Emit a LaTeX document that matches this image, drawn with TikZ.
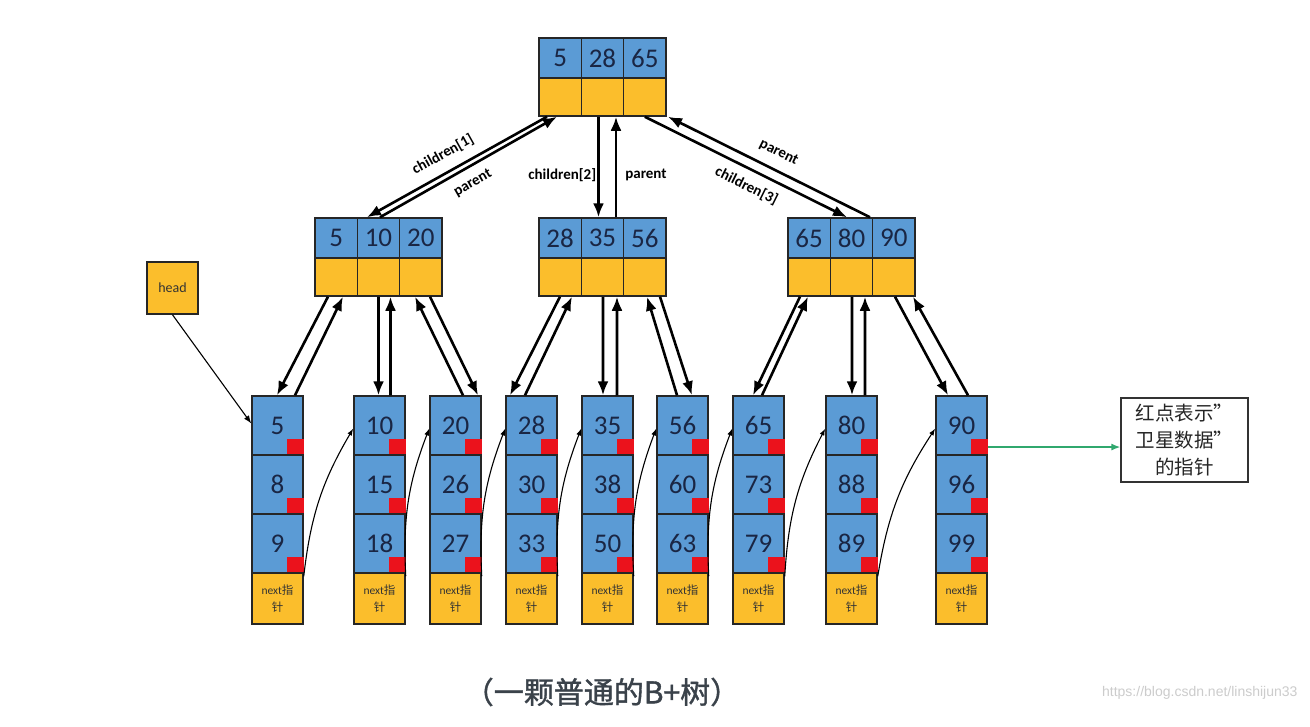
\documentclass[tikz,border=0pt]{standalone}
\usepackage{fontspec}
\setmainfont{Carlito}
\newfontfamily\cjk{Noto Sans CJK SC}
\newfontfamily\capfont[FakeBold=1.2]{Noto Sans CJK SC}
\newfontfamily\urlfont{Liberation Sans}
\usetikzlibrary{arrows.meta}

\definecolor{keyblue}{RGB}{91,155,213}
\definecolor{ptryellow}{RGB}{251,190,44}
\definecolor{dotred}{RGB}{235,18,28}
\definecolor{numblue}{RGB}{26,38,68}
\definecolor{linkgreen}{RGB}{48,168,110}
\definecolor{capgray}{RGB}{58,66,74}

\tikzset{
    keycell/.style={rectangle,draw=black!85,line width=1.5pt,fill=keyblue,text=numblue,font=\fontsize{27}{27}\selectfont,inner sep=0pt},
    ptrcell/.style={rectangle,draw=black!85,line width=1.5pt,fill=ptryellow,inner sep=0pt},
    reddot/.style={rectangle,fill=dotred,minimum size=17pt,inner sep=0pt,anchor=south east},
    link/.style={line width=2.6pt,-{Latex[length=14pt,width=11pt]}},
    nextlink/.style={line width=1.1pt,-{Latex[length=7pt,width=5pt]}},
    tag/.style={font=\bfseries\fontsize{15}{15}\selectfont,inner sep=1pt}
}

\begin{document}
\begin{tikzpicture}[x=1pt,y=-1pt]
    \path[fill=white,use as bounding box] (0,0) rectangle (1310,726);
    \foreach \n/\x/\y/\a/\b/\c in {root/539/38/5/28/65,lft/315/218/5/10/20,mid/539/218/28/35/56,rgt/788/218/65/80/90} {
        \foreach \k/\v in {1/\a,2/\b,3/\c} {
            \node at (\x+42.33*\k-21.17,\y+20) [keycell,minimum width=42.33pt,minimum height=40pt] (\n-k\k) {\v};
            \node at (\x+42.33*\k-21.17,\y+59) [ptrcell,minimum width=42.33pt,minimum height=38pt] (\n-p\k) {};
        }
    }
    \foreach \i/\x/\a/\b/\c in {1/277.5/5/8/9,2/379.5/10/15/18,3/455.5/20/26/27,4/531.5/28/30/33,5/607.5/35/38/50,6/682.5/56/60/63,7/758.5/65/73/79,8/851.5/80/88/89,9/961.5/90/96/99} {
        \foreach \k/\v/\y in {1/\a/425.5,2/\b/484.5,3/\c/543.5} {
            \node at (\x,\y) [keycell,minimum width=51pt,minimum height=59pt] (l\i-\k) {\v};
            \node at (l\i-\k.south east) [reddot] (l\i-d\k) {};
        }
        \node at (\x,598.5) [ptrcell,minimum width=51pt,minimum height=51pt,align=center,text=black!80,font=\fontsize{11.5}{17}\selectfont] (l\i-n) {next{\cjk 指}\\{\cjk 针}};
    }
    \node at (172.5,288) [ptrcell,minimum width=51pt,minimum height=52pt,text=black!80,font=\fontsize{14}{14}\selectfont] (head) {head};
    \draw[line width=1.1pt,-{Latex[length=8pt,width=6pt]}] (head.south) -- ([yshift=2]l1-1.west);

    \draw[link] ([xshift=-13.2]root-p1.south) -- ([xshift=-11.5]lft-k2.north)
        node[tag,sloped,above=9pt,pos=0.53] (c1) {children[1]};
    \draw[link] ([xshift=1.5]lft-k2.north) -- ([xshift=-3.2]root-p1.south)
        node[tag,sloped,below=8pt,pos=0.48] (p1) {parent};
    \draw[link] ([xshift=-4]root-p2.south) -- ([xshift=-4]mid-k2.north)
        node[tag,left,pos=0.58] (c2) {children[2]};
    \draw[link] ([xshift=13.5]mid-k2.north) -- ([xshift=13.5]root-p2.south)
        node[tag,right=7pt,pos=0.42] (p2) {parent};
    \draw[link] ([xshift=0]root-p3.south) -- ([xshift=-4.5]rgt-k2.north)
        node[tag,sloped,below=8pt,pos=0.54] (c3) {children[3]};
    \draw[link] ([xshift=18.5]rgt-k2.north) -- ([xshift=23.2]root-p3.south)
        node[tag,sloped,above=9pt,pos=0.49] (p3) {parent};

    \foreach \p/\q/\a/\b/\c/\d in {lft-p1/l1-1/-8.2/-0.5/17.5/6.8,lft-p2/l2-1/0/-1/11/12,lft-p3/l3-1/9.2/22.5/7.5/-5.8,
        mid-p1/l4-1/-0.2/-21.5/-6.5/11.8,mid-p2/l5-1/0.5/-4.5/9.5/14.5,mid-p3/l6-1/15.2/9.5/-5.5/2.2,
        rgt-p1/l7-1/-9.2/-5.5/3.5/-1.2,rgt-p2/l8-1/0.5/0.5/13.5/13.5,rgt-p3/l9-1/1.2/-13.5/6.5/19.2} {
        \draw[link] ([xshift=\a]\p.south) -- ([xshift=\b]\q.north);
        \draw[link] ([xshift=\c]\q.north) -- ([xshift=\d]\p.south);
    }
    \foreach \i/\j in {1/2,2/3,3/4,4/5,5/6,6/7,7/8,8/9} {
        \draw[nextlink] ([yshift=-4]l\i-n.north east) to[bend left=12] ([yshift=-3]l\j-1.west);
    }

    \node at (1184.5,440) [rectangle,draw=black!80,line width=1.2pt,minimum width=127pt,minimum height=84pt,align=center,text=black!85,font=\cjk\fontsize{19.5}{27}\selectfont] (note) {红点表示”\\卫星数据”\\的指针};
    \draw[line width=1.5pt,linkgreen,-{Latex[length=9pt,width=7pt]}] (l9-d1.east) -- (note.west |- l9-d1.east);

    \node at (602,692) [text=capgray,font=\capfont\fontsize{30}{30}\selectfont] (caption) {（一颗普通的B+树）};
    \node at (1301,693) [anchor=east,text=black!20,font=\urlfont\fontsize{14}{14}\selectfont] (mark) {https://blog.csdn.net/linshijun33};
\end{tikzpicture}
\end{document}
